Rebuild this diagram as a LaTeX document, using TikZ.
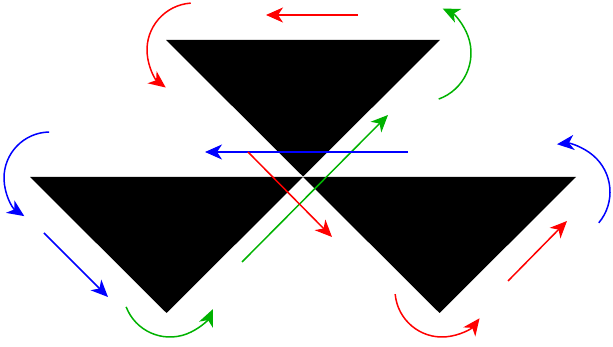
\documentclass[tikz,border=0pt]{standalone}
\usetikzlibrary{arrows.meta}
\definecolor{myred}{RGB}{255,0,0}
\definecolor{mygreen}{RGB}{0,178,0}
\definecolor{myblue}{RGB}{0,0,255}
\tikzset{
  tri/.style={fill=black, draw=none},
  arr/.style={line width=1.5pt, -{Stealth[length=17pt,width=15pt,inset=5pt]}},
  rarr/.style={arr, draw=myred},
  garr/.style={arr, draw=mygreen},
  barr/.style={arr, draw=myblue}
}
\begin{document}
\begin{tikzpicture}[x=1pt,y=1pt]
\useasboundingbox (0,0) rectangle (613,347);
% triangles
\fill[tri] (166,307) -- (440,307) -- (303,170.5) -- cycle;
\fill[tri] (30,170) -- (303,170) -- (166.5,34) -- cycle;
\fill[tri] (303,170) -- (576,170) -- (439.5,34) -- cycle;
% arc centres
\coordinate (cTL) at (194,297);
\coordinate (cTR) at (422,294);
\coordinate (cL) at (50,169);
\coordinate (cB) at (170,57);
\coordinate (cBR) at (442,57);
\coordinate (cR) at (562,155);
% straight arrow end points
\coordinate (rt1) at (358,332); \coordinate (rt2) at (266,332);
\coordinate (bl1) at (44,114);  \coordinate (bl2) at (108,50);
\coordinate (gc1) at (242,85);  \coordinate (gc2) at (388,232);
\coordinate (bc1) at (408,195); \coordinate (bc2) at (205,195);
\coordinate (rc1) at (248,195); \coordinate (rc2) at (332,110);
\coordinate (rb1) at (508,66);  \coordinate (rb2) at (567,126);
% arcs
\draw[rarr] (cTL) ++(94:47) arc[start angle=94, end angle=233, radius=47];
\draw[garr] (cTR) ++(-70:49) arc[start angle=-70, end angle=65, radius=49];
\draw[barr] (cL) ++(91:46) arc[start angle=91, end angle=236, radius=46];
\draw[garr] (cB) ++(201:47) arc[start angle=201, end angle=336, radius=47];
\draw[rarr] (cBR) ++(185:47) arc[start angle=185, end angle=323, radius=47];
\draw[barr] (cR) ++(-40:48) arc[start angle=-40, end angle=96, radius=48];
% straight arrows
\draw[rarr] (rt1) -- (rt2);
\draw[barr] (bl1) -- (bl2);
\draw[garr] (gc1) -- (gc2);
\draw[barr] (bc1) -- (bc2);
\draw[rarr] (rc1) -- (rc2);
\draw[rarr] (rb1) -- (rb2);
\end{tikzpicture}
\end{document}
